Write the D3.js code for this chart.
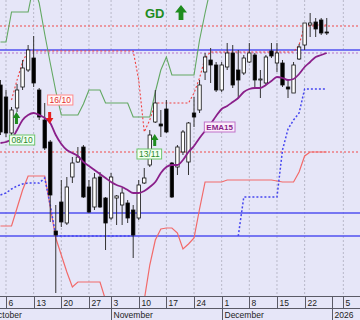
<!DOCTYPE html>
<html>
<head>
<meta charset="utf-8">
<script src="https://cdn.jsdelivr.net/npm/d3@7"></script>
<style>
  body { margin: 0; background: #e6e6f8; }
  svg { display: block; font-family: "Liberation Sans", Arial, sans-serif; }
</style>
</head>
<body>
<div id="chart"></div>
<script>
const width = 360,
  height = 320,
  plotH = 296,
  rowH = 12;

// trading days (Oct 31 is absent from the feed), then the padded future days
const days = [
  "2025-10-03","2025-10-06","2025-10-07","2025-10-08","2025-10-09","2025-10-10",
  "2025-10-13","2025-10-14","2025-10-15","2025-10-16","2025-10-17",
  "2025-10-20","2025-10-21","2025-10-22","2025-10-23","2025-10-24",
  "2025-10-27","2025-10-28","2025-10-29","2025-10-30",
  "2025-11-03","2025-11-04","2025-11-05","2025-11-06","2025-11-07",
  "2025-11-10","2025-11-11","2025-11-12","2025-11-13","2025-11-14",
  "2025-11-17","2025-11-18","2025-11-19","2025-11-20","2025-11-21",
  "2025-11-24","2025-11-25","2025-11-26","2025-11-27","2025-11-28",
  "2025-12-01","2025-12-02","2025-12-03","2025-12-04","2025-12-05",
  "2025-12-08","2025-12-09","2025-12-10","2025-12-11","2025-12-12",
  "2025-12-15","2025-12-16","2025-12-17","2025-12-18","2025-12-19",
  "2025-12-22","2025-12-23","2025-12-24","2025-12-29","2025-12-30"
];
const futureDays = ["2026-01-01", "2026-01-02", "2026-01-05"];

const open = [341.5,340.3,336.7,339.2,341.3,343.0,344.2,341.0,338.0,335.8,326.9,329.8,327.7,332.3,333.8,335.3,331.3,329.3,332.3,330.2,
  328.2,330.2,329.5,329.7,329.0,328.2,331.7,333.5,337.8,337.6,339.1,333.7,333.3,334.8,333.8,338.7,339.0,342.8,344.0,343.5,
  341.0,343.3,344.7,343.0,342.7,343.8,344.5,342.0,341.7,344.9,343.7,343.7,341.3,340.7,344.1,345.5,347.5,347.8,348.0,346.8];
const high = [342.0,341.0,339.3,341.6,344.0,345.5,346.4,341.2,339.7,336.0,329.5,332.0,332.3,334.3,335.3,335.5,332.0,332.7,332.8,330.3,
  332.7,330.5,331.2,330.0,329.5,332.0,333.2,337.0,341.0,339.0,340.0,333.8,335.5,337.0,337.8,340.3,342.0,344.7,345.2,343.8,
  343.8,345.7,345.5,345.0,344.5,345.7,344.7,343.0,344.5,345.7,345.7,344.0,342.0,343.8,345.6,347.7,348.7,348.2,348.2,348.2];
const low = [336.5,336.3,336.3,338.8,341.0,342.8,341.3,338.0,335.0,327.8,320.7,327.3,327.5,331.7,333.7,330.2,328.7,329.0,329.2,325.0,
  328.0,327.5,327.5,327.7,324.2,328.0,331.6,333.3,337.7,336.3,336.7,330.2,332.5,334.5,332.5,337.3,338.7,342.0,341.7,340.8,
  340.8,343.0,341.2,340.2,342.5,343.7,341.2,340.2,341.5,344.2,342.8,341.3,340.2,340.7,344.0,345.0,346.3,346.3,346.5,346.5];
const close = [336.8,336.7,339.0,341.0,343.2,345.0,341.7,338.3,335.2,330.5,326.5,327.8,331.3,333.7,334.3,330.3,328.8,332.2,329.3,327.7,
  332.3,330.4,330.7,328.2,326.5,331.5,332.2,336.5,339.7,337.4,336.8,330.3,335.3,336.8,337.7,338.3,341.5,344.3,343.5,341.0,
  343.5,344.7,341.5,342.0,344.2,344.7,342.0,342.1,344.3,344.4,344.7,341.5,341.1,343.5,345.3,347.7,347.7,347.1,346.7,346.7];

const ema15 = [335.7,335.8,336.1,337.0,338.0,338.5,338.7,338.5,338.2,337.7,336.5,335.6,335.0,334.7,334.4,333.8,333.4,333.0,332.6,332.2,
  331.8,331.5,331.3,331.0,330.7,330.7,330.9,331.3,331.8,332.7,333.3,333.5,333.5,334.0,334.8,335.4,336.2,336.9,337.6,338.4,
  339.1,339.4,339.8,340.2,340.8,341.1,341.2,341.2,341.5,341.9,342.3,342.2,342.0,342.1,342.6,343.3,343.8,344.3,344.5,344.7];
const upperStop = [345.8,345.8,348.8,348.8,348.8,348.8,351.5,349.7,346.6,343.7,340.9,338.5,338.5,338.5,338.5,339.6,341.0,341.0,341.0,339.7,
  339.7,339.7,339.7,339.7,338.3,338.3,338.3,338.3,340.8,343.0,344.3,342.5,342.5,342.5,342.5,342.5,346.0,348.7,351.2,null,
  null,null,null,null,null,null,null,null,null,null,null,null,null,null,null,null,null,null,null,null];
const lowerStop = [327.4,327.4,327.4,329.2,331.0,332.4,332.4,332.4,332.4,329.3,326.2,324.5,322.8,321.3,321.8,321.8,321.8,321.8,321.8,320.0,
  317.0,317.0,317.0,317.0,317.0,317.0,320.0,323.5,326.0,327.1,327.2,327.2,326.7,325.1,325.6,326.2,329.1,331.8,331.8,331.8,
  331.8,332.0,332.0,332.0,332.0,332.0,332.0,332.0,332.0,332.0,331.9,331.8,331.8,331.8,332.8,334.4,334.8,334.8,334.8,334.8];
const supportStop = [330.5,330.7,331.1,331.4,331.6,331.7,331.7,331.7,332.2,329.5,326.4,326.4,326.4,326.4,326.4,326.4,326.4,326.4,326.4,326.4,
  326.4,326.4,326.4,326.4,326.4,null,null,null,null,null,null,null,null,null,null,null,null,null,null,null,
  null,null,null,326.4,330.3,330.3,330.3,330.3,330.3,330.3,330.3,335.0,337.1,338.0,338.7,341.1,341.1,341.1,341.1,341.1];
const trailStop = [null,null,340.0,342.0,343.8,344.9,344.9,344.9,344.9,344.9,344.9,344.9,344.9,344.9,344.9,344.9,344.9,344.9,344.9,344.9,
  344.9,344.9,344.9,344.9,344.9,342.0,336.8,338.0,339.7,339.7,339.7,339.7,339.7,339.7,339.7,340.7,342.2,344.2,344.8,344.8,
  344.8,344.8,344.8,344.8,344.8,344.8,344.8,344.8,344.8,344.8,344.8,344.8,344.8,344.8,345.5,347.5,347.5,347.5,347.5,347.5];

// horizontal levels
const blueLevels = [345.0, 328.7, 326.4];
const redLevels = [347.4, 334.8];
const purpleLevels = [344.7];

// signals
const signalDates = ["2025-10-08", "2025-10-16", "2025-11-13"];
const signalLabels = ["08/10", "16/10", "13/11"];
const signalBuy = [true, false, true];
const arrowLevels = [338.2, 338.2, 336.0];
const labelLevels = [336.0, 340.0, 334.6];

// axis
const weekTicks = ["2025-10-06","2025-10-13","2025-10-20","2025-10-27","2025-11-03","2025-11-10",
  "2025-11-17","2025-11-24","2025-12-01","2025-12-08","2025-12-15","2025-12-22","2026-01-05"];
const monthStarts = ["2025-11-03", "2025-12-01", "2026-01-01"];
const monthLabels = ["November", "December", "2026"];
const firstMonthLabel = "October";

const green = "#1f8c1f", red = "#e61e1e";

const xScale = d3.scalePoint()
  .domain(days.concat(futureDays))
  .range([0.47, 343.33]);
const step = xScale.step();

const yScale = d3.scaleLinear()
  .domain([320.4, 350])
  .range([plotH, 0]);

const candles = days.map((d, i) => ({
  date: d, open: open[i], high: high[i], low: low[i], close: close[i]
}));

const svg = d3.select("#chart")
  .append("svg")
  .attr("width", width)
  .attr("height", height);

svg.append("rect")
  .attr("width", width)
  .attr("height", height)
  .attr("fill", "#e6e6f8");

svg.append("clipPath")
  .attr("id", "plot-clip")
  .append("rect")
  .attr("width", width)
  .attr("height", plotH);

const plot = svg.append("g").attr("clip-path", "url(#plot-clip)");

// vertical grid
plot.selectAll(".grid")
  .data(weekTicks)
  .join("line")
  .attr("class", "grid")
  .attr("x1", d => xScale(d))
  .attr("x2", d => xScale(d))
  .attr("y1", 0)
  .attr("y2", plotH)
  .attr("stroke", "#b9b9c9")
  .attr("stroke-dasharray", "2,2");

function hLines(levels, color, dash, w) {
  plot.append("g")
    .selectAll("line")
    .data(levels)
    .join("line")
    .attr("x1", 0)
    .attr("x2", width)
    .attr("y1", d => yScale(d))
    .attr("y2", d => yScale(d))
    .attr("stroke", color)
    .attr("stroke-width", w)
    .attr("stroke-dasharray", dash);
}

hLines(redLevels, "#f04848", "2,2", 1);
hLines(purpleLevels, "#b874c8", "2,2", 1.2);
hLines(blueLevels, "#5050f0", null, 1.3);

function series(values, color, w, dash, curve) {
  const line = d3.line()
    .defined(d => d.v != null)
    .x(d => xScale(d.date))
    .y(d => yScale(d.v))
    .curve(curve || d3.curveLinear);
  plot.append("path")
    .datum(days.map((d, i) => ({ date: d, v: values[i] })))
    .attr("fill", "none")
    .attr("stroke", color)
    .attr("stroke-width", w)
    .attr("stroke-dasharray", dash)
    .attr("d", line);
}

series(lowerStop, "#f26a6a", 1.2, null);
series(upperStop, "#62a862", 1.1, null);
series(supportStop, "#4646f0", 1.5, "2,2");
series(trailStop, "#f04040", 1.1, "2,2");

// candles
const bodyW = 3.4;
const candle = plot.selectAll(".candle")
  .data(candles)
  .join("g")
  .attr("class", "candle");

candle.append("line")
  .attr("x1", d => xScale(d.date))
  .attr("x2", d => xScale(d.date))
  .attr("y1", d => yScale(d.high))
  .attr("y2", d => yScale(d.low))
  .attr("stroke", "#333")
  .attr("stroke-width", 1);

candle.append("rect")
  .attr("x", d => xScale(d.date) - bodyW / 2)
  .attr("width", bodyW)
  .attr("y", d => yScale(Math.max(d.open, d.close)))
  .attr("height", d => Math.max(0.8, Math.abs(yScale(d.open) - yScale(d.close))))
  .attr("fill", d => (d.close >= d.open ? "#fff" : "#000"))
  .attr("stroke", "#111")
  .attr("stroke-width", 0.8);

series(ema15, "#8a1f8a", 1.8, null, d3.curveMonotoneX);

// annotations
function arrowPath(cx, cy, w, h, up) {
  const s = up ? 1 : -1;
  const tip = cy - (s * h) / 2,
    base = tip + s * h * 0.5,
    end = cy + (s * h) / 2,
    hw = w / 2,
    sw = w * 0.2;
  return `M${cx},${tip}L${cx + hw},${base}L${cx + sw},${base}L${cx + sw},${end}` +
    `L${cx - sw},${end}L${cx - sw},${base}L${cx - hw},${base}Z`;
}

function tag(g, cx, cy, text, stroke, fill, color, bold) {
  const t = g.append("text")
    .attr("x", cx)
    .attr("y", cy + 3)
    .attr("text-anchor", "middle")
    .attr("font-size", bold ? 8 : 8.5)
    .attr("font-weight", bold ? "bold" : "normal")
    .attr("fill", color)
    .text(text);
  const tw = t.node().getComputedTextLength() + 4;
  g.insert("rect", "text")
    .attr("x", cx - tw / 2)
    .attr("y", cy - 5)
    .attr("width", tw)
    .attr("height", 10)
    .attr("fill", fill)
    .attr("stroke", stroke)
    .attr("stroke-width", 1);
}

const labelShift = [5, 10, -6];
const arrowShift = -0.6;

signalDates.forEach((d, i) => {
  const g = plot.append("g");
  g.append("path")
    .attr("d", arrowPath(xScale(d) + arrowShift, yScale(arrowLevels[i]), 7.5, 12, signalBuy[i]))
    .attr("fill", signalBuy[i] ? green : red);
  if (signalBuy[i]) {
    tag(g, xScale(d) + labelShift[i], yScale(labelLevels[i]), signalLabels[i], "#6cc46c", "#f2fff2", "#2a8a2a", false);
  } else {
    tag(g, xScale(d) + labelShift[i], yScale(labelLevels[i]), signalLabels[i], "#ff8a8a", "#fff8f8", "#e23030", false);
  }
});

tag(plot.append("g"), xScale("2025-12-01") - 2, yScale(337.3), "EMA15", "#c070c8", "#fbeefb", "#8a1f8a", true);

// title
plot.append("text")
  .attr("x", 145)
  .attr("y", 17.5)
  .attr("font-size", 13)
  .attr("font-weight", "bold")
  .attr("fill", green)
  .text("GD");

plot.append("path")
  .attr("d", arrowPath(181, 12.5, 12, 15, true))
  .attr("fill", green);

// date axis
const axis = svg.append("g").attr("transform", `translate(0,${plotH})`);
const axisColor = "#5a5a66";

axis.append("line")
  .attr("x1", 0).attr("x2", width)
  .attr("y1", 0.5).attr("y2", 0.5)
  .attr("stroke", axisColor);
axis.append("line")
  .attr("x1", 0).attr("x2", width)
  .attr("y1", rowH + 0.5).attr("y2", rowH + 0.5)
  .attr("stroke", axisColor);

const daySeps = Array.from(new Set(weekTicks.concat(monthStarts)));

axis.selectAll(".day-sep")
  .data(daySeps)
  .join("line")
  .attr("class", "day-sep")
  .attr("x1", d => Math.round(xScale(d)) + 0.5)
  .attr("x2", d => Math.round(xScale(d)) + 0.5)
  .attr("y1", 0)
  .attr("y2", rowH)
  .attr("stroke", axisColor);

axis.selectAll(".day-label")
  .data(weekTicks)
  .join("text")
  .attr("class", "day-label")
  .attr("x", d => Math.round(xScale(d)) + 2.5)
  .attr("y", 9.5)
  .attr("font-size", 8.5)
  .attr("fill", "#222")
  .text(d => +d.slice(8));

const months = [{ x: xScale(days[0]) - 2 * step, label: firstMonthLabel }]
  .concat(monthStarts.map((d, i) => ({ x: xScale(d), label: monthLabels[i] })));

axis.selectAll(".month-sep")
  .data(months)
  .join("line")
  .attr("class", "month-sep")
  .attr("x1", d => Math.round(d.x) + 0.5)
  .attr("x2", d => Math.round(d.x) + 0.5)
  .attr("y1", rowH)
  .attr("y2", 2 * rowH)
  .attr("stroke", axisColor);

axis.selectAll(".month-label")
  .data(months)
  .join("text")
  .attr("class", "month-label")
  .attr("x", d => Math.round(d.x) + 2.5)
  .attr("y", rowH + 9.5)
  .attr("font-size", 8.5)
  .attr("fill", "#222")
  .text(d => d.label);
</script>
</body>
</html>
